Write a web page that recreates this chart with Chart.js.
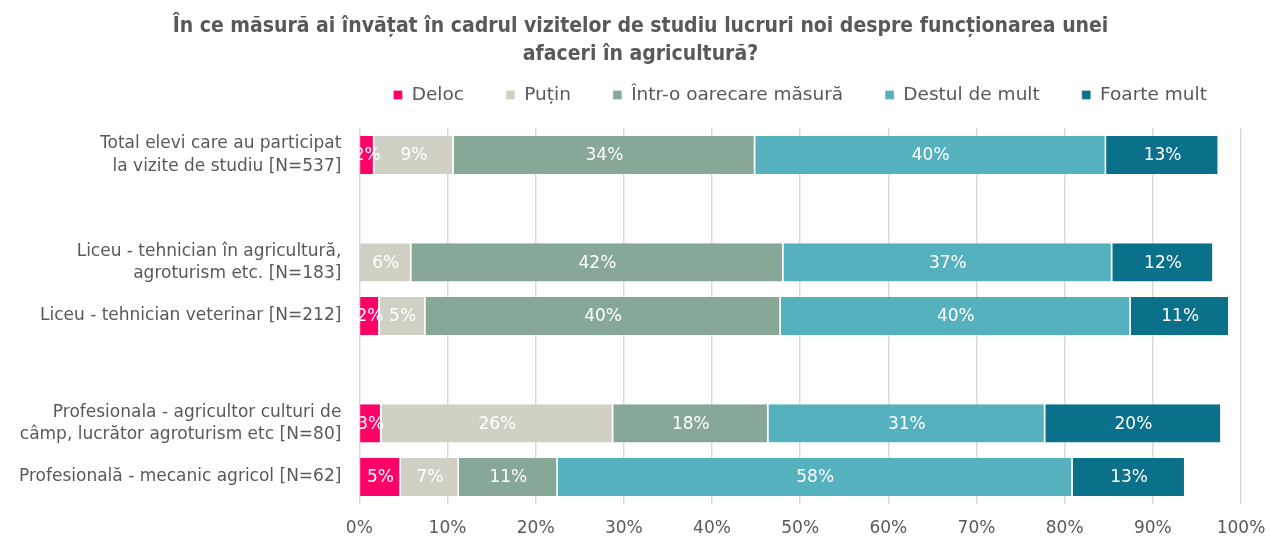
<!DOCTYPE html>
<html>
<head>
<meta charset="utf-8">
<script src="https://cdn.jsdelivr.net/npm/chart.js@4"></script>
<style>
  body { margin: 0; background: #fff; }
  #wrap { width: 1269px; height: 536px; }
</style>
</head>
<body>
<div id="wrap"><canvas id="grafic"></canvas></div>
<script>
const categorii = [
    ['Total elevi care au participat', 'la vizite de studiu [N=537]'],
    '',
    ['Liceu - tehnician în agricultură,', 'agroturism etc. [N=183]'],
    'Liceu - tehnician veterinar [N=212]',
    '',
    ['Profesionala - agricultor culturi de', 'câmp, lucrător agroturism etc [N=80]'],
    'Profesională - mecanic agricol [N=62]'
];
const deloc = [1.7, null, 0, 2.3, null, 2.5, 4.7];
const putin = [9.0, null, 5.9, 5.2, null, 26.3, 6.6];
const oarecare = [34.2, null, 42.2, 40.3, null, 17.6, 11.2];
const destul = [39.8, null, 37.3, 39.7, null, 31.4, 58.4];
const foarte = [12.8, null, 11.5, 11.2, null, 20.0, 12.8];
const tickuri = ['0%', '10%', '20%', '30%', '40%', '50%', '60%', '70%', '80%', '90%', '100%'];

const fontul = "'DejaVu Sans', sans-serif";
const fontTitlu = "'DejaVu Sans Condensed', 'DejaVu Sans', sans-serif";
const gri = '#595959';

// etichete in interiorul barelor
const eticheteBare = {
    id: 'eticheteBare',
    afterDatasetsDraw(chart) {
        const ctx = chart.ctx;
        ctx.save();
        ctx.font = '17px ' + fontul;
        ctx.fillStyle = '#ffffff';
        ctx.textAlign = 'center';
        ctx.textBaseline = 'middle';
        chart.data.datasets.forEach((ds, i) => {
            chart.getDatasetMeta(i).data.forEach((bar, j) => {
                const v = ds.data[j];
                if (!v) return;
                ctx.fillText(Math.round(v) + '%', (bar.x + bar.base) / 2, bar.y + 1);
            });
        });
        ctx.restore();
    }
};

// legenda pe un singur rand, cu spatiu suplimentar dedesubt; titlul centrat pe pagina
const legendaLata = {
    id: 'legendaLata',
    beforeInit(chart) {
        const leg = chart.legend;
        const fitVechi = leg.fit;
        const drawVechi = leg.draw;
        leg.fit = function () {
            this.maxWidth = Math.max(this.maxWidth, 1200);
            fitVechi.call(this);
            this.height += 14;
        };
        leg.draw = function () {
            const l = this.left, r = this.right;
            this.left = l - 200;
            this.right = r + 200;
            drawVechi.call(this);
            this.left = l;
            this.right = r;
        };
        const tit = chart.titleBlock;
        const drawTitlu = tit.draw;
        tit.draw = function () {
            const l = this.left, r = this.right;
            this.left = 12;
            this.right = chart.width;
            this.width = this.right - this.left;
            drawTitlu.call(this);
            this.left = l;
            this.right = r;
            this.width = r - l;
        };
    }
};

const serie = (label, data, culoare) => ({
    label: label,
    data: data,
    backgroundColor: culoare,
    borderColor: '#ffffff',
    borderWidth: { left: 0, right: 1.5, top: 0, bottom: 0 },
    borderSkipped: false,
    categoryPercentage: 1,
    barPercentage: 0.71
});

new Chart(document.getElementById('grafic').getContext('2d'), {
    type: 'bar',
    data: {
        labels: categorii,
        datasets: [
            serie('Deloc', deloc, '#FF0066'),
            serie('Puțin', putin, '#D0D1C4'),
            serie('Într-o oarecare măsură', oarecare, '#87A896'),
            serie('Destul de mult', destul, '#56B1BF'),
            serie('Foarte mult', foarte, '#0B718B')
        ]
    },
    options: {
        indexAxis: 'y',
        responsive: true,
        maintainAspectRatio: false,
        animation: false,
        layout: { padding: { top: 8, right: 0, bottom: -17, left: 9 } },
        scales: {
            x: {
                stacked: true,
                min: 0,
                max: 100,
                afterFit: (scale) => { scale.paddingRight = 28; },
                ticks: {
                    stepSize: 10,
                    color: gri,
                    padding: 14,
                    font: { family: fontul, size: 17 },
                    callback: (v, i) => tickuri[i]
                },
                grid: { color: '#d9d9d9', lineWidth: 1.5, drawTicks: false },
                border: { display: false }
            },
            y: {
                stacked: true,
                ticks: {
                    color: gri,
                    autoSkip: false,
                    font: { family: fontul, size: 17, lineHeight: 1.3 },
                    padding: 10
                },
                grid: { display: false },
                border: { display: false }
            }
        },
        plugins: {
            title: {
                display: true,
                text: ['În ce măsură ai învățat în cadrul vizitelor de studiu lucruri noi despre funcționarea unei', 'afaceri în agricultură?'],
                color: gri,
                font: { family: fontTitlu, size: 21, weight: 'bold', lineHeight: 1.35 },
                padding: { top: 4, bottom: -25 }
            },
            legend: {
                position: 'top',
                fullSize: false,
                labels: {
                    color: gri,
                    font: { family: fontul, size: 18.5 },
                    boxWidth: 9,
                    boxHeight: 9,
                    padding: 42
                }
            },
            tooltip: { enabled: false }
        }
    },
    plugins: [eticheteBare, legendaLata]
});
</script>
</body>
</html>
